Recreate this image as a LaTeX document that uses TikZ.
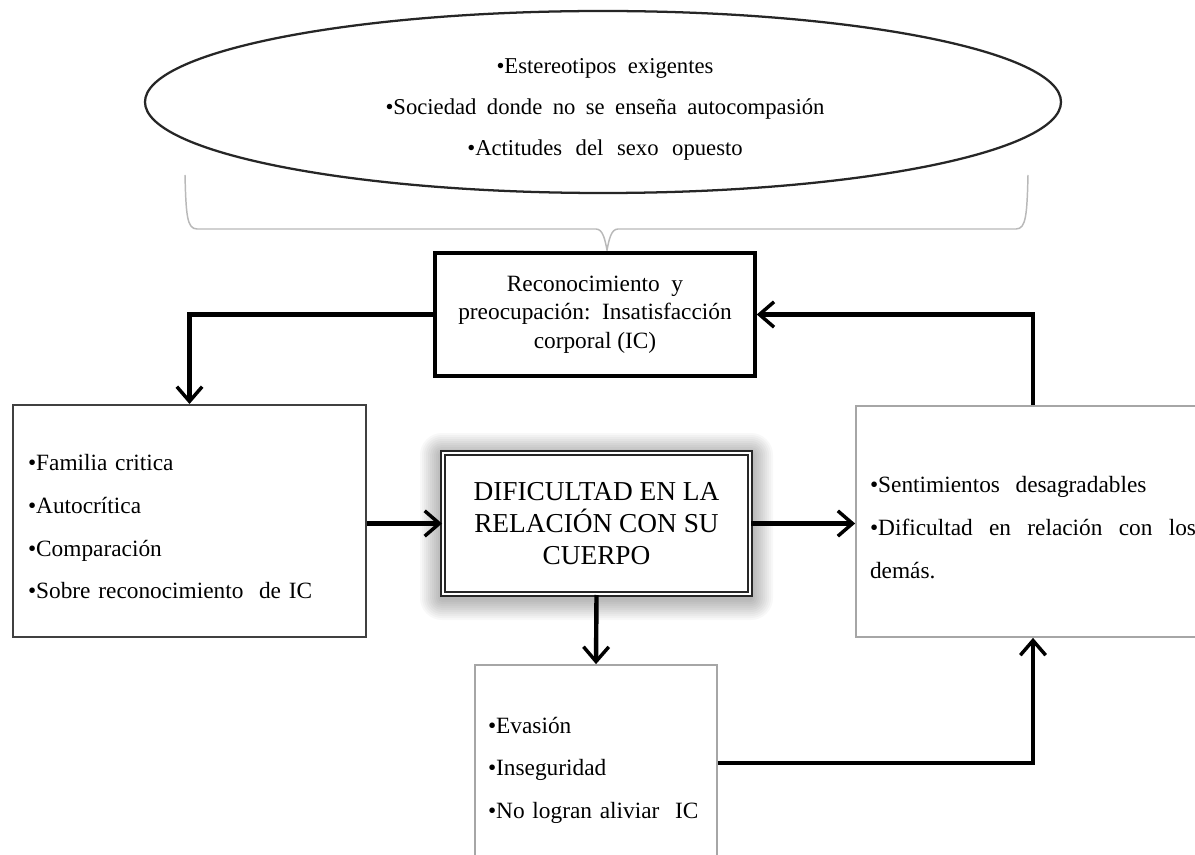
\documentclass[tikz,border=0pt]{standalone}
\usepackage{fontspec}
\setmainfont{Liberation Serif}
\usetikzlibrary{arrows.meta,shapes.geometric,backgrounds,calc}
\begin{document}
\begin{tikzpicture}[x=0.75pt,y=-0.75pt,
  txt/.style={font=\fontsize{17.5}{32}\selectfont, align=left},
  arr/.style={line width=3.3pt, line join=miter,
    -{Straight Barb[length=11pt,width=19pt,line width=2.6pt]}},
  bracecol/.style={draw=gray!55, line width=1.1pt}]
\useasboundingbox (0,0) rectangle (1195,855);

% ellipse
\node[ellipse, draw=black!85, line width=1.7pt, minimum width=687pt,
      minimum height=136.5pt, inner sep=0pt] (ell) at (603,102) {};
\node[font=\fontsize{17}{30.75}\selectfont, align=center] (elltxt) at (605,109)
  {\textbullet Estereotipos\ \ exigentes\\
   {\spaceskip=0.46em\relax \textbullet Sociedad donde no se enseña autocompasión}\\
   {\spaceskip=0.6em\relax \textbullet Actitudes del sexo opuesto}};

% brace
\draw[bracecol] (185,175) .. controls (186,215) and (187,229) .. (197,229)
  -- (596,229) .. controls (603,229) and (605,240) .. (607,250)
  .. controls (609,240) and (611,229) .. (618,229)
  -- (1016,229) .. controls (1026,229) and (1027,215) .. (1028,175);

% boxes
\node[draw, line width=2.6pt, minimum width=240pt, minimum height=92.25pt,
      inner sep=0pt, align=center, font=\fontsize{17.5}{21.5}\selectfont]
  (reco) at (595,314.5)
  {Reconocimiento\ \ y\\ preocupación:\ \ Insatisfacción\\ corporal (IC)};

\node[draw=black!75, line width=1.5pt, minimum width=264.75pt,
      minimum height=174pt, inner xsep=11.25pt, text width=242.25pt, txt]
  (left) at (189.5,521)
  {\rule{0pt}{21pt}\textbullet Familia critica\\
   \textbullet Autocrítica\\
   \textbullet Comparación\\
   \textbullet Sobre reconocimiento\ \ de IC};

\node[draw=black!85, double=white, double distance=1pt, line width=1.5pt,
      fill=white, minimum width=230.25pt, minimum height=105.75pt,
      align=center, font=\fontsize{20.5}{24}\selectfont]
  (mid) at (596.5,523.5)
  {DIFICULTAD EN LA\\ RELACIÓN CON SU\\ CUERPO};

\node[draw=gray!70, line width=1.3pt, minimum width=265.5pt,
      minimum height=173.25pt, text width=244.5pt, txt]
  (right) at (1033,521.5)
  {\rule{0pt}{21pt}\textbullet Sentimientos\ \ desagradables\\
   \textbullet Dificultad\hfill en\hfill relación\hfill con\hfill los\\
   demás.};

\node[draw=gray!70, line width=1.3pt, minimum width=181.5pt,
      minimum height=147pt, inner xsep=9.75pt, text width=162pt, txt]
  (evas) at (596,763)
  {\rule{0pt}{23pt}\textbullet Evasión\\
   \textbullet Inseguridad\\
   \textbullet No logran aliviar\ \ IC};

% shadow and background
\begin{scope}[on background layer]
  \fill[white] (0,0) rectangle (1195,855);
  \foreach \i in {1,...,11}
    \fill[black, opacity=0.026, rounded corners=\i*1.5pt]
      ($(mid.south west)+(-\i*2,\i*2+3)$) rectangle ($(mid.north east)+(\i*2,-\i*2+3)$);
\end{scope}

% arrows
\draw[arr] (reco.west) -| (left.north);
\draw[arr] (left.east |- mid.west) -- (mid.west);
\draw[arr] (mid.east) -- (mid.east -| right.west);
\draw[arr] (mid.south) -- (evas.north);
\draw[arr] (evas.east) -| (right.south);
\draw[arr] (right.north) |- (reco.east);
\end{tikzpicture}
\end{document}
